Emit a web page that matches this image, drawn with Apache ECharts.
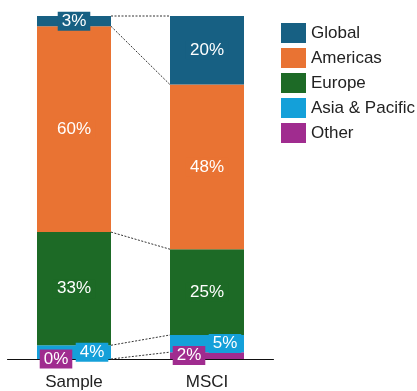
<!DOCTYPE html>
<html>
<head>
<meta charset="utf-8">
<script src="https://cdn.jsdelivr.net/npm/echarts@6/dist/echarts.min.js"></script>
<style>html,body{margin:0;padding:0;background:#fff}#c{width:417px;height:391px}</style>
</head>
<body>
<div id="c"></div>
<script>
const categories = ['Sample', 'MSCI'];
const seriesNames = ['Other', 'Asia & Pacific', 'Europe', 'Americas', 'Global'];
const other = [0, 2];
const asiaPacific = [4, 5];
const europe = [33, 25];
const americas = [60, 48];
const global = [3, 20];
const legendOrder = ['Global', 'Americas', 'Europe', 'Asia & Pacific', 'Other'];

const colors = {
  'Global': '#176083',
  'Americas': '#e97333',
  'Europe': '#1d6a26',
  'Asia & Pacific': '#14a0d9',
  'Other': '#a02c8f'
};
const values = [other, asiaPacific, europe, americas, global];
const FONT = "'Liberation Sans', Arial, Helvetica, sans-serif";
const BAR_RATIO = 74 / 133;

const labelShift = {
  'Other': [-18, 0],
  'Asia & Pacific': [18, 0]
};

const barSeries = seriesNames.map((name, si) => ({
  name: name,
  type: 'bar',
  stack: 'total',
  barWidth: (BAR_RATIO * 100) + '%',
  itemStyle: { color: colors[name] },
  label: {
    show: true,
    position: 'inside',
    formatter: '{c}%',
    color: '#fff',
    fontFamily: FONT,
    fontSize: 17,
    lineHeight: 17,
    backgroundColor: colors[name],
    padding: [1, 4],
    offset: labelShift[name] || [0, 0]
  },
  data: values[si]
}));

const cumS = [], cumM = [];
let s = 0, m = 0;
for (let i = 0; i < values.length; i++) {
  s += values[i][0]; m += values[i][1];
  cumS.push(s); cumM.push(m);
}
const connectorData = [[0, other[0], other[1]]].concat(
  cumS.slice(1).map((v, i) => [0, v, cumM[i + 1]])
);

const connectors = {
  type: 'custom',
  name: 'connectors',
  silent: true,
  z: 1,
  data: connectorData,
  renderItem: function (params, api) {
    const band = api.size([1, 0])[0];
    const half = band * BAR_RATIO / 2;
    const p1 = api.coord([0, api.value(1)]);
    const p2 = api.coord([1, api.value(2)]);
    return {
      type: 'line',
      shape: { x1: p1[0] + half, y1: p1[1], x2: p2[0] - half, y2: p2[1] },
      style: { stroke: '#333', lineWidth: 1, lineDash: [2, 1.5] }
    };
  }
};

const chart = echarts.init(document.getElementById('c'), null, { renderer: 'canvas' });
chart.setOption({
  animation: false,
  textStyle: { fontFamily: FONT },
  grid: { left: 7.5, top: 16, width: 266, height: 343, containLabel: false },
  legend: {
    data: legendOrder,
    orient: 'vertical',
    left: 281,
    top: 23,
    padding: 0,
    itemWidth: 25,
    itemHeight: 20,
    itemGap: 5,
    icon: 'rect',
    textStyle: { fontSize: 17, color: '#222', fontFamily: FONT }
  },
  xAxis: {
    type: 'category',
    data: categories,
    axisLine: { lineStyle: { color: '#111', width: 1 } },
    axisTick: { show: false },
    axisLabel: { fontSize: 17, color: '#222', margin: 15, fontFamily: FONT }
  },
  yAxis: {
    type: 'value',
    min: 0,
    max: 100,
    show: false,
    splitLine: { show: false }
  },
  series: [connectors].concat(barSeries)
});
</script>
</body>
</html>
